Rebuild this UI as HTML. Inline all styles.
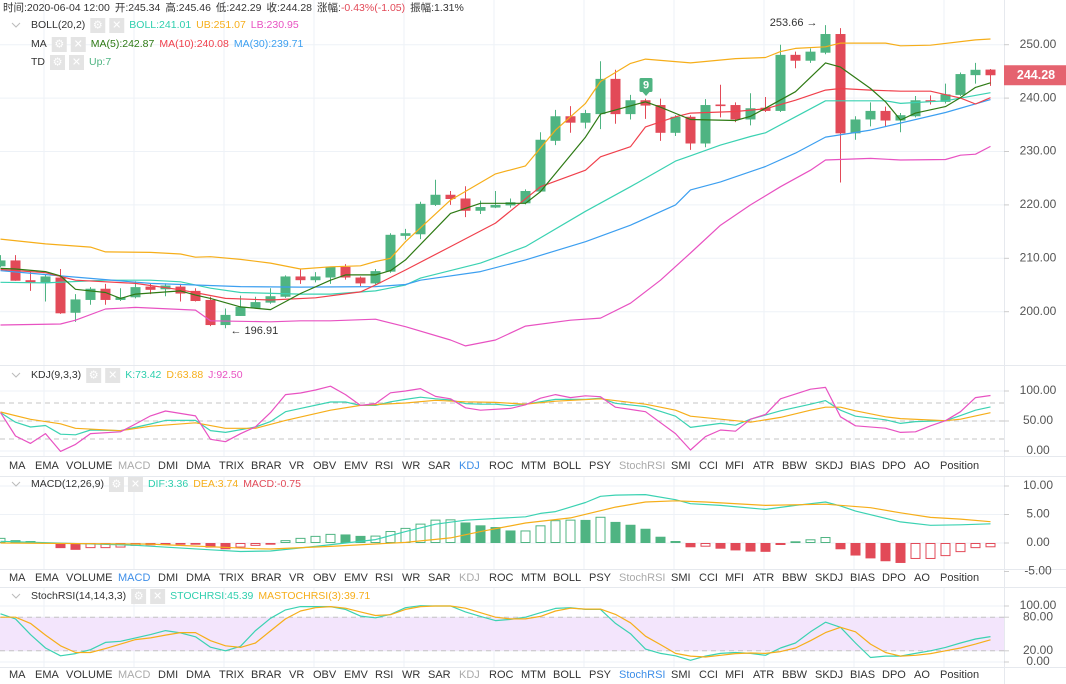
<!DOCTYPE html>
<html><head><meta charset="utf-8">
<style>
html,body{margin:0;padding:0;background:#fff;}
svg{display:block;font-family:"Liberation Sans","Noto Sans CJK SC",sans-serif;}
</style></head>
<body>
<svg id="c" width="1066" height="684" viewBox="0 0 1066 684" xmlns="http://www.w3.org/2000/svg">
<g id="grid"></g>
<g id="panes"></g>
<g id="marks"></g>
<g id="axis"></g>
<g id="hdr"></g>
</svg>
<script>
// ===== candle data =====
const openV  = [208.5,209.6,205.9,205.4,206.4,199.8,202.2,204.3,202.2,202.7,204.7,204.2,204.7,203.9,202.2,197.5,199.2,200.7,201.7,202.8,206.6,205.9,206.4,208.4,206.4,205.3,207.5,214.2,214.5,220.0,221.9,221.2,218.9,219.5,219.9,220.3,222.5,232.0,236.6,235.4,237.0,243.6,237.0,239.6,238.7,233.5,236.5,231.5,238.8,238.7,236.0,238.2,237.6,248.1,247.0,248.5,252.0,233.4,236.0,237.6,235.8,236.6,239.6,239.3,240.6,244.3,245.34];
const closeV = [209.6,205.8,205.4,206.6,199.7,202.3,204.3,202.2,202.7,204.6,204.1,204.9,203.4,202.0,197.5,199.4,200.9,201.8,202.9,206.6,205.9,206.6,208.4,206.4,205.3,207.6,214.4,214.7,220.2,221.9,221.1,218.9,219.6,220.0,220.5,222.6,232.2,236.6,235.4,237.2,243.6,237.0,239.6,238.6,233.5,236.5,231.5,238.7,238.5,236.0,238.1,237.6,248.1,247.0,248.7,252.0,233.4,236.0,237.6,235.8,236.8,239.6,239.3,240.7,244.5,245.3,244.28];
const highV  = [210.6,210.6,207.5,206.9,208.0,203.3,204.6,205.2,204.4,205.7,205.3,205.3,205.2,204.4,202.8,200.6,203.0,202.8,204.4,206.8,208.0,207.4,208.4,208.9,206.6,208.0,214.7,215.5,220.6,224.7,222.6,223.5,220.8,222.6,221.2,222.9,233.6,237.8,238.5,237.8,246.9,245.3,240.6,239.9,239.9,236.8,236.8,239.8,242.5,239.2,240.9,240.2,250.0,248.7,249.3,253.66,253.1,236.6,239.2,238.4,237.2,240.4,240.5,242.7,244.8,246.6,245.46];
const lowV   = [208.3,205.8,203.9,201.9,199.6,198.1,201.3,201.3,202.0,202.5,203.3,202.9,201.9,201.9,197.3,196.91,199.2,200.6,201.5,202.6,205.2,205.5,205.2,206.0,204.8,205.1,207.3,213.5,213.6,219.8,220.0,217.7,218.3,219.4,219.5,220.1,222.4,231.2,233.5,234.3,234.2,235.2,236.0,236.1,232.0,232.9,230.3,230.8,236.4,235.5,234.9,237.4,237.4,245.6,246.6,248.2,224.2,232.2,234.7,234.7,233.6,236.4,238.8,239.0,240.4,242.7,242.29];
// ===== overlay lines (candle index / price) =====
const bollUpIdx = [0,3,6,7,10,12,13,14,16,18,20,22,24,25,26,27,30,33,35,37,39,40,42,43,46,49,51,52,53,55,56,59,60,62,65,66];
const bollUpVal = [213.6,212.7,212.1,211.2,211.1,210.8,210.2,210.3,209.8,209.1,208.0,208.4,208.6,209.4,210,213.1,220.9,225.8,227.3,234,239,243.1,246.5,247.3,246.6,247.4,247.6,248.7,249.3,249.6,250.3,250.3,249.8,249.9,250.9,251.07];
const bollMidIdx = [0,3,7,10,12,14,16,20,22,25,27,28,32,35,39,42,45,46,48,50,51,53,55,59,60,63,66];
const bollMidVal = [205.5,205.4,205.9,205.9,205.6,204.4,203.6,203.3,203.3,203.9,205,206.3,209.1,212.2,218.8,223.4,228.2,229.2,231.2,232.8,233.5,236.5,239.5,239.5,239,239.5,241.01];
const bollLoIdx = [0,4,5,7,9,13,14,18,20,22,25,27,30,31,33,35,38,40,42,44,46,48,50,52,54,55,58,60,63,64,65,66];
const bollLoVal = [197.5,197.7,198.4,200.5,200.8,200.3,198.3,198.1,198.3,198.3,198.6,197.2,194.7,193.6,194.7,197.3,198.4,198.8,201.6,205.9,211,216.2,220,223.4,226.5,228.4,228.7,228.4,228.5,229.3,229.5,230.95];
const ma5Idx = [0,1,3,4,5,7,8,9,12,13,14,16,18,19,20,22,23,25,26,27,30,32,35,36,39,40,43,44,46,49,50,51,53,55,56,58,59,60,61,63,64,65,66];
const ma5Val = [208.1,208,207.5,206.7,204.2,203.6,202.5,203.3,203.9,203.1,202.5,200.9,200.4,201.9,203.4,205.9,206.9,206.9,207.7,209.7,218.4,220.3,220.3,222.5,232.7,237,239.3,238.3,236,235.8,236.6,238.1,241.2,246.6,245.8,241.8,239.3,235.9,237.2,238.4,240.1,242,242.87];
const ma10Idx = [0,3,5,9,12,15,18,21,24,25,27,30,33,36,39,40,42,43,45,46,49,51,53,55,56,58,60,62,64,65,66];
const ma10Val = [207.9,207.3,205.9,205.3,204.1,202.5,202.2,202.6,203.7,205,207.8,212.2,216.6,223.4,226.5,229,230.9,234.6,236.5,237.2,237.5,238,239.6,241.5,241.8,241.5,241.3,241.3,240,238.9,240.08];
const ma30Idx = [0,4,10,16,20,25,27,28,32,35,39,42,45,46,48,51,53,55,58,63,66];
const ma30Val = [207.7,206.7,205.3,204.7,204.6,204.7,205.1,205.9,207.5,209.7,213.1,216.2,220,222.8,224.3,227.2,229.7,232.7,234,237.3,239.71];
// ===== KDJ =====
const kIdx = [0,1,2,3,4,5,6,8,10,11,13,14,15,17,18,19,20,22,23,24,25,26,27,28,29,30,31,32,33,34,35,37,39,40,41,43,45,46,48,49,50,52,54,55,56,57,59,60,61,63,64,65,66];
const kVal = [64,48,40,42.5,28,27,35,34,45,51,51,34,31,40,49,65.5,71,81.7,81.7,76,76,82,86,89.6,87,85,79,78,78,75.5,78,86,86,88,79.5,74,58,39.4,46,43,53,67,78,84,68,58,52,46,49,50.5,59,68,73.42];
const dIdx = [0,2,4,5,8,10,13,15,17,19,22,24,27,29,31,33,35,37,40,43,45,46,48,50,52,54,55,56,57,59,60,63,64,66];
const dVal = [65,52.8,45.3,37.8,33.8,41.3,47,37.8,37.8,51,68,76,80,84.5,82,81,78,83,87,78,68,58,53,48,56,68,73,73,67,57,54,50.5,53,63.88];
const jIdx = [0,1,2,3,4,5,6,8,9,10,11,13,14,15,16,17,18,19,20,21,22,23,24,25,26,27,28,29,30,31,32,34,35,36,37,38,39,40,41,43,45,46,47,48,49,50,51,52,54,55,56,57,59,60,61,62,63,64,65,66];
const jVal = [64,25,12.7,29,-0.7,11,29,32,45,58.5,66.7,58.5,19.5,15.5,28.9,40.3,64,94,96.7,101.7,108,94,76,79,97,100,104,91,87,72,68,71,77,88,94,89,92,90.5,73,65.5,29,1.7,24,35,33,53,61,87,103,106,57,42,38,31,32,42,50.5,65.5,89,92.5];
// ===== MACD =====
const histVal = [0.9,0.5,0.35,0.05,-0.9,-1.2,-0.9,-0.9,-0.8,-0.5,-0.4,-0.3,-0.3,-0.3,-0.8,-1.1,-0.8,-0.5,-0.3,0.5,0.9,1.25,1.6,1.5,1.25,1.3,2.1,2.65,3.4,4.1,4.15,3.6,3.1,2.8,2.2,2.2,3.1,4.0,4.1,4.05,4.6,3.7,3.2,2.5,1.1,0.35,-0.75,-0.65,-1.0,-1.3,-1.5,-1.55,-0.35,0.3,0.65,1.05,-1.1,-2.2,-2.7,-3.2,-3.5,-2.8,-2.8,-2.3,-1.6,-0.9,-0.75];
const difIdx = [0,9,14,16,18,21,23,25,27,29,31,35,36,37,38,39,40,41,43,45,46,48,51,53,54,55,56,57,60,62,64,66];
const difVal = [0.3,-0.4,-1.2,-1.5,-1.4,-0.6,0,0.6,2.0,3.3,4.0,4.6,5.2,5.5,6.3,7.1,8.2,8.4,8.5,7.6,6.9,6.6,5.9,6.6,6.9,7.2,6.5,5.6,3.7,3.1,3.2,3.36];
const deaIdx = [0,10,17,18,22,27,30,32,35,38,41,43,45,47,51,55,58,60,62,64,66];
const deaVal = [0,-0.2,-1.0,-1.05,-0.6,0.1,0.9,2.0,3.5,4.4,6.3,7.2,7.4,7.2,6.6,6.8,6.2,5.3,4.5,4.2,3.74];
// ===== StochRSI =====
const stochVal = [86,77,49,25,11,15,22,35,37,43,49,56,52,45,26.5,20,28,56,78,93,99,99,99,94,82,79,85,97,100.6,100,100,89.5,81.5,74,76,80,88,95.7,97,94,94,69,50.6,23,15.4,11,3,10.5,15.4,17,15.4,12,25,34,54,71,62,34,8,10.5,10.5,15.4,20,26,34,41,45.39];
const maStochVal = [80,80,69,48,29,17,17,24,32,40,43,48,52.5,52.5,38,29,26,34,55.5,77,91,97,99,96,89.5,83,84.5,94,99,100,100,96,88,80,77,77,81.5,91,96,94.5,94.5,85,70,46,31,15.4,10.5,9,12,15,16,15.4,18.5,25,38,52.5,62,54,32,17,10.5,12,15,20,25,32,39.71];
// ===== axis ticks =====
const priceTicks = [250,240,230,220,210,200];
const kdjTicks = [100,50,0];
const macdTicks = [10,5,0,-5];
const stochTicks = [100,80,20,0];
const tabNames = ["MA","EMA","VOLUME","MACD","DMI","DMA","TRIX","BRAR","VR","OBV","EMV","RSI","WR","SAR","KDJ","ROC","MTM","BOLL","PSY","StochRSI","SMI","CCI","MFI","ATR","BBW","SKDJ","BIAS","DPO","AO","Position"];
const tabX = [9,35,66,118,158,186,219,251,289,313,344,375,402,428,459,489,521,553,589,619,671,699,725,753,782,815,850,882,914,940];

// ===== scales =====
const X = i => 15*i + 0.5;
const PY = p => 44.7 + (250-p)*5.34;
const KY = v => 451 - 0.6*v;
const MY = v => 543 - 5.7*v;
const SY = v => 662 - 0.56*v;
const AX = 1004;
const NS = "http://www.w3.org/2000/svg";
const GREEN = "#4fb482", RED = "#e24a58";

function mk(parent, tag, attrs, name, inter){
  const e = document.createElementNS(NS, tag);
  for (const k in attrs) e.setAttribute(k, attrs[k]);
  
  
  parent.appendChild(e);
  return e;
}
function txt(parent, x, y, s, fill, size, name, anchor, inter){
  const e = mk(parent, 'text', {x:x, y:y, fill:fill, 'font-size':size, 'text-anchor':anchor||'start', 'dominant-baseline':'middle'}, name, inter);
  e.textContent = s;
  return e;
}
const G = document.getElementById('grid'), P = document.getElementById('panes'),
      M = document.getElementById('marks'), A = document.getElementById('axis'),
      H = document.getElementById('hdr');

for (let x = 44; x < AX; x += 90) mk(G,'line',{x1:x,y1:0,x2:x,y2:684,stroke:'#eef2f7','stroke-width':1},'v-gridline',false);
[[456,476],[569,587],[667,684]].forEach(r=>{
  mk(P,'rect',{x:0,y:r[0],width:AX,height:r[1]-r[0],fill:'#fff'},'tab-row-bg',false);
});
[365,456,476,569,587,667].forEach(y=> mk(P,'line',{x1:0,y1:y+0.5,x2:1066,y2:y+0.5,stroke:'#e6e9ee','stroke-width':1},'pane-border',false));
priceTicks.forEach(v=> mk(G,'line',{x1:0,y1:PY(v),x2:AX,y2:PY(v),stroke:'#eef2f7'},'price-gridline',false));
kdjTicks.forEach(v=> mk(G,'line',{x1:0,y1:KY(v),x2:AX,y2:KY(v),stroke:'#eef2f7'},'kdj-gridline',false));
macdTicks.forEach(v=> mk(G,'line',{x1:0,y1:MY(v),x2:AX,y2:MY(v),stroke:'#eef2f7'},'macd-gridline',false));
stochTicks.forEach(v=> mk(G,'line',{x1:0,y1:SY(v),x2:AX,y2:SY(v),stroke:'#eef2f7'},'stoch-gridline',false));
mk(P,'rect',{x:0,y:SY(80),width:AX,height:SY(20)-SY(80),fill:'#f3e5fc'},'stoch-band',false);
[80,50,20].forEach(v=> mk(P,'line',{x1:0,y1:KY(v),x2:AX,y2:KY(v),stroke:'#c4c4c4','stroke-dasharray':'5,4'},'kdj-level-line',false));
[80,20].forEach(v=> mk(P,'line',{x1:0,y1:SY(v),x2:AX,y2:SY(v),stroke:'#c4c4c4','stroke-dasharray':'5,4'},'stoch-level-line',false));

for (let i = 0; i < openV.length; i++){
  const up = closeV[i] >= openV[i];
  const col = up ? GREEN : RED;
  const g = mk(M,'g',{},'candle',true);
  mk(g,'line',{x1:X(i),y1:PY(highV[i]),x2:X(i),y2:PY(lowV[i]),stroke:col,'stroke-width':1},'candle-wick',false);
  const t = PY(Math.max(openV[i],closeV[i])), b = PY(Math.min(openV[i],closeV[i]));
  mk(g,'rect',{x:X(i)-5,y:t,width:10,height:Math.max(1,b-t),fill:col},'candle-body',false);
}
function line(parent, idx, vals, sy, col, name, w){
  const pts = idx.map((ix,k)=> X(ix).toFixed(1)+','+sy(vals[k]).toFixed(1)).join(' ');
  mk(parent,'polyline',{points:pts,fill:'none',stroke:col,'stroke-width':w||1.2,'stroke-linejoin':'round'},name,false);
}
const seq = stochVal.map((_,i)=>i);
line(M,bollUpIdx,bollUpVal,PY,'#f6ae1a','boll-upper-line');
line(M,bollMidIdx,bollMidVal,PY,'#3bd2b2','boll-mid-line');
line(M,bollLoIdx,bollLoVal,PY,'#e852c2','boll-lower-line');
line(M,ma30Idx,ma30Val,PY,'#3c9ff0','ma30-line');
line(M,ma10Idx,ma10Val,PY,'#f0404c','ma10-line');
line(M,ma5Idx,ma5Val,PY,'#2e7a14','ma5-line');
line(M,kIdx,kVal,KY,'#3bd2b2','kdj-k-line');
line(M,dIdx,dVal,KY,'#f6ae1a','kdj-d-line');
line(M,jIdx,jVal,KY,'#e852c2','kdj-j-line');
for (let i = 0; i < histVal.length; i++){
  const v = histVal[i], prev = i>0 ? histVal[i-1] : v;
  const col = v >= 0 ? GREEN : RED;
  const hollow = v >= prev;
  const y0 = MY(0), y1 = MY(v);
  const t = Math.min(y0,y1), h = Math.max(1,Math.abs(y1-y0));
  if (hollow) mk(M,'rect',{x:X(i)-4.5,y:t+0.5,width:9,height:Math.max(0.5,h-1),fill:'none',stroke:col,'stroke-width':1},'macd-bar',false);
  else mk(M,'rect',{x:X(i)-5,y:t,width:10,height:h,fill:col},'macd-bar',false);
}
line(M,difIdx,difVal,MY,'#3bd2b2','macd-dif-line');
line(M,deaIdx,deaVal,MY,'#f6ae1a','macd-dea-line');
line(M,seq,stochVal,SY,'#3bd2b2','stochrsi-line');
line(M,seq,maStochVal,SY,'#f6ae1a','mastochrsi-line');

mk(A,'rect',{x:AX,y:0,width:1066-AX,height:684,fill:'#fff'},'y-axis-bg',false);
mk(A,'line',{x1:AX+0.5,y1:0,x2:AX+0.5,y2:684,stroke:'#e6e9ee'},'y-axis-line',false);
[365,456,476,569,587,667].forEach(y=> mk(A,'line',{x1:AX,y1:y+0.5,x2:1066,y2:y+0.5,stroke:'#e6e9ee'},'axis-pane-border',false));
priceTicks.forEach(v=>{ mk(A,'line',{x1:AX,y1:PY(v),x2:AX+5,y2:PY(v),stroke:'#ccc'},'price-tick',false); txt(A,1038,PY(v),v.toFixed(2),'#555',12,'price-tick-label','middle'); });
kdjTicks.forEach(v=>{ mk(A,'line',{x1:AX,y1:KY(v),x2:AX+5,y2:KY(v),stroke:'#ccc'},'kdj-tick',false); txt(A,1038,KY(v),v.toFixed(2),'#555',12,'kdj-tick-label','middle'); });
macdTicks.forEach(v=>{ mk(A,'line',{x1:AX,y1:MY(v),x2:AX+5,y2:MY(v),stroke:'#ccc'},'macd-tick',false); txt(A,1038,MY(v),v.toFixed(2),'#555',12,'macd-tick-label','middle'); });
stochTicks.forEach(v=>{ mk(A,'line',{x1:AX,y1:SY(v),x2:AX+5,y2:SY(v),stroke:'#ccc'},'stoch-tick',false); txt(A,1038,SY(v),v.toFixed(2),'#555',12,'stoch-tick-label','middle'); });
const lastP = closeV[closeV.length-1];
mk(A,'rect',{x:AX,y:PY(lastP)-10,width:62,height:20,fill:'#e5636f'},'last-price-tag',false);
txt(A,1036,PY(lastP)+0.5,lastP.toFixed(2),'#fff',12.5,'last-price-label','middle').setAttribute('font-weight','bold');

let hiI = highV.indexOf(Math.max(...highV)), loI = lowV.indexOf(Math.min(...lowV));
txt(M,X(hiI)-8,PY(highV[hiI])-2,Math.max(...highV).toFixed(2)+' →','#333',11,'high-annotation','end');
txt(M,X(loI)+5,PY(lowV[loI])+3,'← '+Math.min(...lowV).toFixed(2),'#333',11,'low-annotation','start');
const td = mk(M,'g',{},'td-signal-9',false);
mk(td,'rect',{x:X(43)-6,y:78,width:13,height:14,rx:1.5,fill:'#4fb482'},'td-badge',false);
mk(td,'path',{d:`M${X(43)-3} 92 L${X(43)+0.5} 96 L${X(43)+4} 92 Z`,fill:'#4fb482'},'td-badge-pointer',false);
txt(td,X(43)+0.5,85.5,'9','#fff',11,'td-badge-label','middle').setAttribute('font-weight','bold');

// headers (flow layout)
const FS = 10.5;
function flowText(x, y, s, col, name){
  const e = txt(H,x,y,s,col,FS,name);
  let w = 0; try { w = e.getComputedTextLength(); } catch(err) { w = s.length*6; }
  return x + w;
}
function icons(x,y){
  mk(H,'rect',{x:x,y:y-7,width:15,height:15,fill:'#e4e4e4'},'settings-button',true);
  txt(H,x+7.5,y+0.5,'⚙','#fff',11,'settings-icon','middle');
  mk(H,'rect',{x:x+19,y:y-7,width:15,height:15,fill:'#e4e4e4'},'close-button',true);
  txt(H,x+26.5,y+0.5,'✕','#fff',11,'close-icon','middle');
  return x+39;
}
function chevron(y){ mk(H,'path',{d:`M12 ${y-2} L16 ${y+2} L20 ${y-2}`,fill:'none',stroke:'#bbb','stroke-width':1},'collapse-toggle',true); }
function row(y, title, titleName, vals, chev){
  if (chev) chevron(y);
  let x = flowText(31,y,title,'#333',titleName) + 5;
  x = icons(x,y);
  vals.forEach(v=>{ x = flowText(x,y,v[0],v[1],v[2]) + 5; });
}
let ix = 3;
[["时间:2020-06-04 12:00","#333",5],["开:245.34","#333",5],["高:245.46","#333",5],["低:242.29","#333",5],["收:244.28","#333",5],["涨幅:","#333",0],["-0.43%(-1.05)","#e24a58",5],["振幅:1.31%","#333",5]].forEach(a=>{
  ix = flowText(ix,8,a[0],a[1],'ohlc-info') + a[2];
});
row(25,'BOLL(20,2)','boll-legend-title',[['BOLL:241.01','#2fcfae','boll-mid-value'],['UB:251.07','#f6ae1a','boll-ub-value'],['LB:230.95','#e852c2','boll-lb-value']],true);
row(44,'MA','ma-legend-title',[['MA(5):242.87','#2e7a14','ma5-value'],['MA(10):240.08','#f0404c','ma10-value'],['MA(30):239.71','#3c9ff0','ma30-value']],false);
row(62,'TD','td-legend-title',[['Up:7','#4fb482','td-up-value']],false);
row(375,'KDJ(9,3,3)','kdj-legend-title',[['K:73.42','#2fcfae','kdj-k-value'],['D:63.88','#f6ae1a','kdj-d-value'],['J:92.50','#e852c2','kdj-j-value']],true);
row(484,'MACD(12,26,9)','macd-legend-title',[['DIF:3.36','#2fcfae','macd-dif-value'],['DEA:3.74','#f6ae1a','macd-dea-value'],['MACD:-0.75','#e24a58','macd-hist-value']],true);
row(596,'StochRSI(14,14,3,3)','stochrsi-legend-title',[['STOCHRSI:45.39','#2fcfae','stochrsi-value'],['MASTOCHRSI(3):39.71','#f6ae1a','mastochrsi-value']],true);
const tabActive = ["KDJ","MACD","StochRSI"];
[466,578,675].forEach((y,r)=>{
  tabNames.forEach((n,k)=>{
    let col = '#333';
    if (n === tabActive[r]) col = '#3d8ee8';
    else if (tabActive.indexOf(n) >= 0) col = '#aaa';
    txt(H,tabX[k],y,n,col,11,'indicator-tab-'+n.toLowerCase(),null,true);
  });
});
</script>
</body></html>
